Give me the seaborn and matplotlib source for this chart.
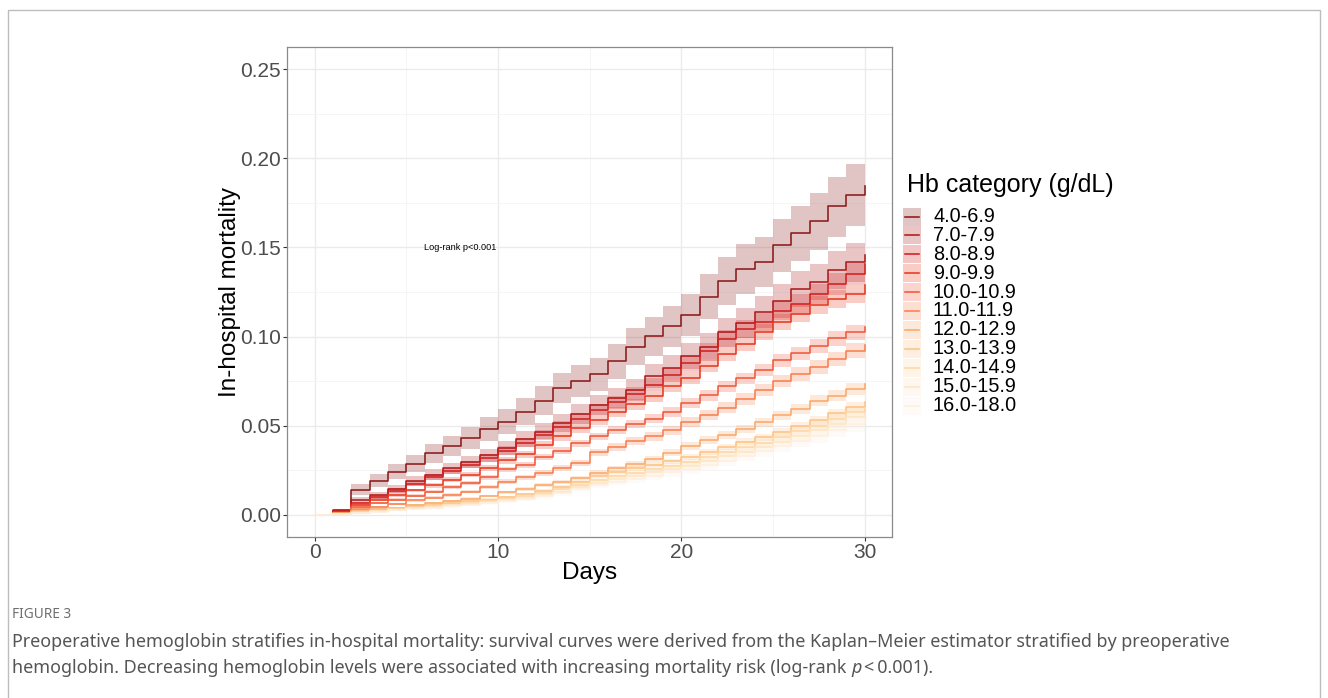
import numpy as np
import pandas as pd
import seaborn as sns
import matplotlib.pyplot as plt
from matplotlib.patches import Rectangle
from matplotlib.lines import Line2D

plt.rcParams['font.family'] = ['Liberation Sans', 'DejaVu Sans']

# dias 0..30 y mortalidad acumulada por categoria de Hb
days = list(range(31))
groups = ['4.0-6.9', '7.0-7.9', '8.0-8.9', '9.0-9.9', '10.0-10.9', '11.0-11.9',
          '12.0-12.9', '13.0-13.9', '14.0-14.9', '15.0-15.9', '16.0-18.0']
colors = ['#8B1A1A', '#AE1B1B', '#D21F1F', '#E8381F', '#F05A3A', '#F7804F',
          '#FBA86A', '#FDC384', '#FED7A6', '#FEE5C4', '#FEEFE0']

mort_4_69 = [0, 0.0022, 0.0140, 0.0190, 0.0240, 0.0286, 0.0346, 0.0386, 0.0430, 0.0482, 0.0523,
             0.0579, 0.0641, 0.0710, 0.0750, 0.0787, 0.0861, 0.0944, 0.1002, 0.1058, 0.1121,
             0.1224, 0.1313, 0.1379, 0.1420, 0.1513, 0.1580, 0.1646, 0.1730, 0.1796, 0.1846]
mort_7_79 = [0, 0.0025, 0.0085, 0.0110, 0.0145, 0.0190, 0.0225, 0.0260, 0.0295, 0.0333, 0.0374,
             0.0426, 0.0467, 0.0516, 0.0566, 0.0617, 0.0654, 0.0702, 0.0777, 0.0824, 0.0890,
             0.0940, 0.1024, 0.1076, 0.1136, 0.1200, 0.1267, 0.1304, 0.1375, 0.1416, 0.1457]
mort_8_89 = [0, 0.0020, 0.0065, 0.0100, 0.0135, 0.0175, 0.0210, 0.0245, 0.0280, 0.0320, 0.0360,
             0.0405, 0.0450, 0.0495, 0.0540, 0.0590, 0.0635, 0.0680, 0.0730, 0.0785, 0.0850,
             0.0920, 0.0987, 0.1043, 0.1080, 0.1145, 0.1183, 0.1239, 0.1295, 0.1351, 0.1407]
mort_9_99 = [0, 0.0015, 0.0055, 0.0085, 0.0110, 0.0136, 0.0165, 0.0195, 0.0225, 0.0260, 0.0305,
             0.0340, 0.0390, 0.0440, 0.0485, 0.0530, 0.0575, 0.0620, 0.0665, 0.0720, 0.0770,
             0.0837, 0.0902, 0.0958, 0.1027, 0.1080, 0.1127, 0.1177, 0.1211, 0.1239, 0.1289]
mort_10_109 = [0, 0.0012, 0.0042, 0.0065, 0.0085, 0.0106, 0.0130, 0.0155, 0.0180, 0.0210, 0.0255,
               0.0280, 0.0325, 0.0360, 0.0400, 0.0440, 0.0475, 0.0510, 0.0540, 0.0576, 0.0626,
               0.0670, 0.0720, 0.0765, 0.0810, 0.0866, 0.0905, 0.0945, 0.0990, 0.1024, 0.1052]
mort_11_119 = [0, 0.0010, 0.0030, 0.0045, 0.0060, 0.0080, 0.0095, 0.0110, 0.0130, 0.0155, 0.0185,
               0.0210, 0.0235, 0.0260, 0.0290, 0.0350, 0.0380, 0.0415, 0.0440, 0.0475, 0.0520,
               0.0560, 0.0600, 0.0650, 0.0700, 0.0750, 0.0790, 0.0830, 0.0875, 0.0921, 0.0953]
mort_12_129 = [0, 0.0008, 0.0020, 0.0030, 0.0040, 0.0055, 0.0065, 0.0078, 0.0090, 0.0105, 0.0125,
               0.0145, 0.0165, 0.0185, 0.0205, 0.0235, 0.0260, 0.0285, 0.0315, 0.0348, 0.0386,
               0.0420, 0.0450, 0.0480, 0.0520, 0.0557, 0.0594, 0.0640, 0.0669, 0.0706, 0.0734]
mort_13_139 = [0, 0.0006, 0.0015, 0.0025, 0.0035, 0.0046, 0.0055, 0.0065, 0.0075, 0.0085, 0.0098,
               0.0115, 0.0135, 0.0155, 0.0185, 0.0216, 0.0240, 0.0260, 0.0280, 0.0300, 0.0326,
               0.0350, 0.0380, 0.0410, 0.0435, 0.0466, 0.0500, 0.0530, 0.0570, 0.0604, 0.0632]
mort_14_149 = [0, 0.0005, 0.0013, 0.0022, 0.0030, 0.0040, 0.0048, 0.0057, 0.0067, 0.0078, 0.0090,
               0.0105, 0.0123, 0.0143, 0.0168, 0.0196, 0.0217, 0.0236, 0.0255, 0.0275, 0.0296,
               0.0322, 0.0350, 0.0378, 0.0405, 0.0436, 0.0470, 0.0500, 0.0538, 0.0576, 0.0598]
mort_15_159 = [0, 0.0004, 0.0012, 0.0020, 0.0028, 0.0036, 0.0044, 0.0052, 0.0061, 0.0071, 0.0082,
               0.0096, 0.0112, 0.0130, 0.0154, 0.0180, 0.0200, 0.0218, 0.0237, 0.0256, 0.0276,
               0.0300, 0.0327, 0.0354, 0.0380, 0.0410, 0.0443, 0.0474, 0.0510, 0.0548, 0.0568]
mort_16_180 = [0, 0.0003, 0.0010, 0.0018, 0.0026, 0.0033, 0.0040, 0.0048, 0.0057, 0.0066, 0.0077,
               0.0090, 0.0104, 0.0120, 0.0142, 0.0166, 0.0185, 0.0202, 0.0220, 0.0238, 0.0256,
               0.0279, 0.0304, 0.0330, 0.0356, 0.0386, 0.0415, 0.0444, 0.0476, 0.0510, 0.0528]
mortality = [mort_4_69, mort_7_79, mort_8_89, mort_9_99, mort_10_109, mort_11_119,
             mort_12_129, mort_13_139, mort_14_149, mort_15_159, mort_16_180]

# pacientes al inicio por grupo y fraccion aun hospitalizada (para el IC de Greenwood)
n_start = [6000, 13000, 39000, 52000, 70000, 65000, 92000, 114000, 108000, 73000, 38000]
in_hospital = [1.0, 0.98, 0.90, 0.80, 0.72, 0.65, 0.60, 0.55, 0.52, 0.49, 0.46,
               0.44, 0.42, 0.40, 0.38, 0.36, 0.34, 0.32, 0.30, 0.28, 0.26,
               0.245, 0.23, 0.215, 0.20, 0.19, 0.18, 0.17, 0.16, 0.15, 0.14]

# tabla larga para seaborn
df = pd.DataFrame({
    'day': days * len(groups),
    'mort': np.concatenate(mortality),
    'hb': np.repeat(groups, len(days)),
})


def km_band(F, n0):
    S = 1 - np.asarray(F)
    S_prev = np.r_[1.0, S[:-1]]
    h = 1 - S / S_prev
    n = n0 * np.asarray(in_hospital)
    se = np.sqrt(np.cumsum(h / (n * (1 - h))))
    lo = 1 - S * np.exp(1.96 * se)
    hi = 1 - S * np.exp(-1.96 * se)
    return lo, hi


fig = plt.figure(figsize=(13.28, 6.98), dpi=100)
W, H = 1328, 698
ax = fig.add_axes([287 / W, 1 - 537 / H, (892 - 287) / W, (537 - 47) / H])

# bandas de confianza
for F, n0, c in zip(mortality, n_start, colors):
    lo, hi = km_band(F, n0)
    ax.fill_between(days, lo, hi, step='post', color=c, alpha=0.25, lw=0, zorder=2)

# curvas
sns.lineplot(data=df, x='day', y='mort', hue='hb', hue_order=groups, palette=colors,
             drawstyle='steps-post', estimator=None, legend=False, lw=1.15, ax=ax, zorder=3)

ax.set_xlim(-1.5, 31.5)
ax.set_ylim(-0.0125, 0.2625)
ax.set_xticks([0, 10, 20, 30])
ax.set_yticks([0, 0.05, 0.10, 0.15, 0.20, 0.25])
ax.set_yticklabels(['0.00', '0.05', '0.10', '0.15', '0.20', '0.25'])
ax.set_xticks([5, 15, 25], minor=True)
ax.set_yticks([0.025, 0.075, 0.125, 0.175, 0.225], minor=True)
ax.grid(which='major', color='#EBEBEB', lw=1.0, zorder=0)
ax.grid(which='minor', color='#F4F4F4', lw=0.6, zorder=0)
ax.set_axisbelow(True)
ax.tick_params(which='major', length=3, width=0.8, color='#333333', pad=1.5,
               labelsize=15, labelcolor='#4D4D4D')
ax.tick_params(which='minor', length=0)
for sp in ax.spines.values():
    sp.set_color('#8A8A8A')
    sp.set_linewidth(0.9)
ax.set_xlabel('')
ax.set_ylabel('')

ax.text(6, 0.15, 'Log-rank p<0.001', fontsize=6.6, ha='left', va='center', color='black')

fig.text(230 / W, 1 - 292 / H, 'In-hospital mortality', rotation=90, fontsize=17.5,
         ha='center', va='center')
fig.text(589.5 / W, 1 - 573 / H, 'Days', fontsize=17.5, ha='center', va='center')

# leyenda
fig.text(907 / W, 1 - 185 / H, 'Hb category (g/dL)', fontsize=18, ha='left', va='center')
for i, (g, c) in enumerate(zip(groups, colors)):
    yc = 216.5 + i * 18.9
    fig.add_artist(Rectangle((903 / W, 1 - (yc + 9) / H), 18 / W, 18 / H,
                             transform=fig.transFigure, facecolor=c, alpha=0.25, lw=0))
    fig.add_artist(Line2D([905 / W, 919 / W], [1 - yc / H, 1 - yc / H],
                          transform=fig.transFigure, color=c, lw=1.15))
    fig.text(933 / W, 1 - yc / H, g, fontsize=14.3, ha='left', va='center')

# marco y pie de figura
fig.add_artist(Rectangle((8 / W, -0.1), 1312 / W, 1.1 - 10 / H, transform=fig.transFigure,
                         fill=False, edgecolor='#BDBDBD', lw=1.0))
cap_font = ['Noto Sans', 'DejaVu Sans']
cap_col = '#555555'
cap_size = 12.9
fig.text(12 / W, 1 - 615 / H, 'FIGURE 3', fontsize=9.8, family=cap_font, color='#6E6E6E',
         ha='left', va='center')
fig.text(12 / W, 1 - 642 / H,
         'Preoperative hemoglobin stratifies in-hospital mortality: survival curves were derived '
         'from the Kaplan\u2013Meier estimator stratified by preoperative',
         fontsize=cap_size, family=cap_font, color=cap_col, ha='left', va='center')
t1 = fig.text(12 / W, 1 - 668 / H,
              'hemoglobin. Decreasing hemoglobin levels were associated with increasing '
              'mortality risk (log-rank ',
              fontsize=cap_size, family=cap_font, color=cap_col, ha='left', va='center')
r = fig.canvas.get_renderer()
x1 = t1.get_window_extent(r).x1
t2 = fig.text(x1 / W, 1 - 668 / H, 'p', fontsize=cap_size, family=cap_font, style='italic',
              color=cap_col, ha='left', va='center')
x2 = t2.get_window_extent(r).x1
fig.text(x2 / W, 1 - 668 / H, '\u2009<\u20090.001).', fontsize=cap_size, family=cap_font,
         color=cap_col, ha='left', va='center')

fig.savefig('out.png', dpi=100)
